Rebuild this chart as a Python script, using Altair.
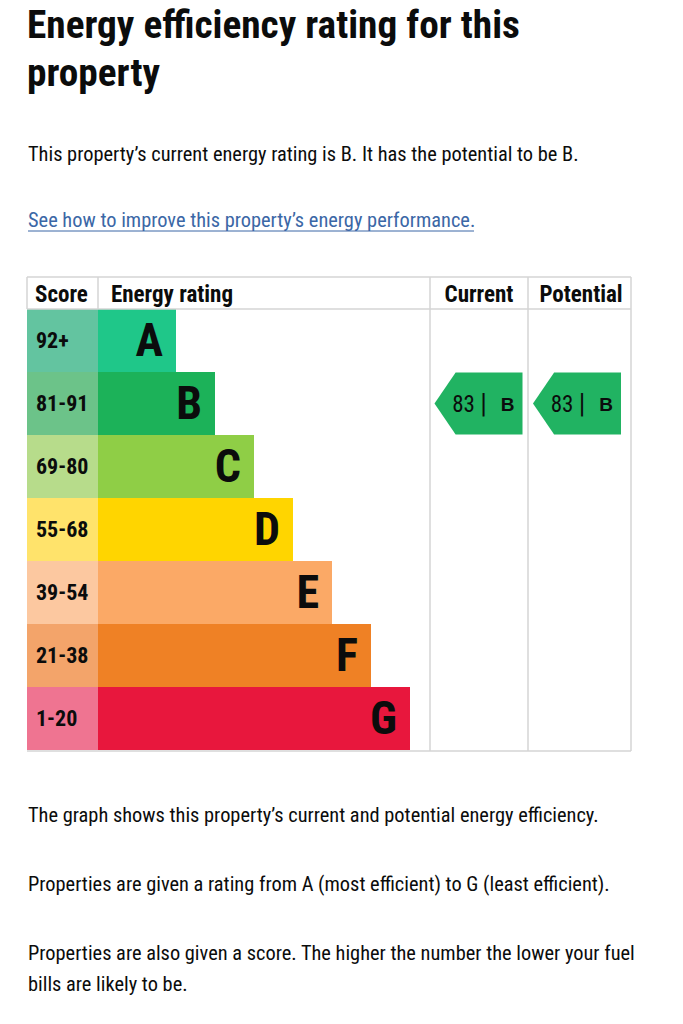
import altair as alt
import pandas as pd

# ---- data ----
ratings = ["A", "B", "C", "D", "E", "F", "G"]
score_bands = ["92+", "81-91", "69-80", "55-68", "39-54", "21-38", "1-20"]
bar_lengths = [2, 3, 4, 5, 6, 7, 8]  # relative bar length (steps)
main_colors = ["#1fc789", "#1cb259", "#8fce46", "#ffd500", "#fba966", "#ef8125", "#e8173d"]
score_colors = ["#63c4a0", "#6cc389", "#b7dc8b", "#ffe36b", "#fcc8a0", "#f3a46a", "#ef7491"]

current_rating = ["B"]
current_score = [83]
potential_rating = ["B"]
potential_score = [83]
arrow_color = "#21b362"

title_lines = ["Energy efficiency rating for this", "property"]
intro = "This property\u2019s current energy rating is B. It has the potential to be B."
link = "See how to improve this property\u2019s energy performance."
footer = [
    "The graph shows this property\u2019s current and potential energy efficiency.",
    "Properties are given a rating from A (most efficient) to G (least efficient).",
    "Properties are also given a score. The higher the number the lower your fuel",
    "bills are likely to be.",
]
headers = ["Score", "Energy rating", "Current", "Potential"]

FONT = "Roboto Condensed"
INK = "#0b0c0c"
GRID = "#d4d4d4"
LINK = "#3b67a6"

bands = pd.DataFrame({"rating": ratings, "score": score_bands, "len": bar_lengths,
                      "main": main_colors, "light": score_colors})

yscale = alt.Scale(domain=ratings, range=[309, 750], paddingInner=0, paddingOuter=0)
xscale = alt.Scale(domain=[0, 8], range=[98, 410])

base = alt.Chart(bands)

score_cells = base.mark_rect().encode(
    x=alt.value(27), x2=alt.value(98),
    y=alt.Y("rating:N", scale=yscale, axis=None),
    color=alt.Color("light:N", scale=None),
)
rating_bars = base.mark_rect().encode(
    x=alt.X("len:Q", scale=xscale, axis=None), x2=alt.value(98),
    y=alt.Y("rating:N", scale=yscale, axis=None),
    color=alt.Color("main:N", scale=None),
)
score_text = base.mark_text(font=FONT, fontWeight="bold", fontSize=22, align="left",
                            baseline="middle", color=INK).encode(
    x=alt.value(36),
    y=alt.Y("rating:N", scale=yscale, axis=None, bandPosition=0.5),
    text="score:N",
)
letter_text = base.mark_text(font=FONT, fontWeight="bold", fontSize=46, align="right",
                             baseline="middle", dx=-13, dy=1, color=INK).encode(
    x=alt.X("len:Q", scale=xscale, axis=None),
    y=alt.Y("rating:N", scale=yscale, axis=None, bandPosition=0.5),
    text="rating:N",
)

arrow_path = "M -1 0 L -0.52 -0.705 L 1 -0.705 L 1 0.705 L -0.52 0.705 Z"


def arrow_layers(rating, score, cx):
    d = alt.Chart(pd.DataFrame({"rating": rating, "score": score}))
    yenc = alt.Y("rating:N", scale=yscale, axis=None, bandPosition=0.5)
    shape = d.mark_point(shape=arrow_path, size=88 * 88, filled=True, opacity=1,
                         color=arrow_color, strokeWidth=0).encode(x=alt.value(cx), y=yenc)
    num = d.mark_text(font=FONT, fontSize=23, align="center", baseline="middle",
                      dx=-15, dy=1, color=INK).encode(x=alt.value(cx), y=yenc, text="score:Q")
    bar = d.mark_text(font=FONT, fontSize=27, align="center", baseline="middle",
                      dx=5, dy=1, color=INK).encode(x=alt.value(cx), y=yenc, text=alt.value("|"))
    let = d.mark_text(font="Liberation Sans", fontWeight="bold", fontSize=19, align="center",
                      baseline="middle", dx=29, dy=1, color=INK).encode(x=alt.value(cx), y=yenc, text="rating:N")
    return [shape, num, bar, let]


# ---- table grid ----
def hrule(y, x1, x2):
    return alt.Chart(pd.DataFrame({"k": [0]})).mark_rule(color=GRID, strokeWidth=1.5).encode(
        x=alt.value(x1), x2=alt.value(x2), y=alt.value(y))


def vrule(x, y1, y2):
    return alt.Chart(pd.DataFrame({"k": [0]})).mark_rule(color=GRID, strokeWidth=1.5).encode(
        x=alt.value(x), y=alt.value(y1), y2=alt.value(y2))


grid = [
    hrule(277, 27, 631), hrule(309, 27, 631), hrule(751, 27, 631),
    vrule(27, 277, 309), vrule(98, 277, 309),
    vrule(430, 277, 751), vrule(528, 277, 751), vrule(631, 277, 751),
]


def text_layer(t, x, y, size, weight="normal", align="left", color=INK, font=FONT):
    return alt.Chart(pd.DataFrame({"t": [t]})).mark_text(
        font=font, fontSize=size, fontWeight=weight, align=align, baseline="alphabetic",
        color=color).encode(x=alt.value(x), y=alt.value(y), text="t:N")


BODY = 20.4
texts = [
    text_layer(title_lines[0], 27, 38, 39.3, "bold"),
    text_layer(title_lines[1], 27, 86, 39.3, "bold"),
    text_layer(intro, 28, 161, BODY),
    text_layer(link, 28, 227, BODY, color=LINK),
    text_layer(headers[0], 35, 302, 23, "bold"),
    text_layer(headers[1], 111, 302, 23, "bold"),
    text_layer(headers[2], 479, 302, 23, "bold", align="center"),
    text_layer(headers[3], 581, 302, 23, "bold", align="center"),
    text_layer(footer[0], 28, 822, BODY),
    text_layer(footer[1], 28, 891, BODY),
    text_layer(footer[2], 28, 960, BODY),
    text_layer(footer[3], 28, 991, BODY),
]
underline = alt.Chart(pd.DataFrame({"k": [0]})).mark_rule(color=LINK, strokeWidth=1).encode(
    x=alt.value(28), x2=alt.value(474), y=alt.value(231))

layers = ([score_cells, rating_bars, score_text, letter_text] + grid +
          arrow_layers(current_rating, current_score, 478.5) +
          arrow_layers(potential_rating, potential_score, 577) +
          texts + [underline])

chart = alt.layer(*layers).properties(
    width=683, height=1024, padding=0, autosize="none", background="white"
).configure_view(stroke=None)

chart.save("out.html", embed_options={"renderer": "svg", "actions": False})
